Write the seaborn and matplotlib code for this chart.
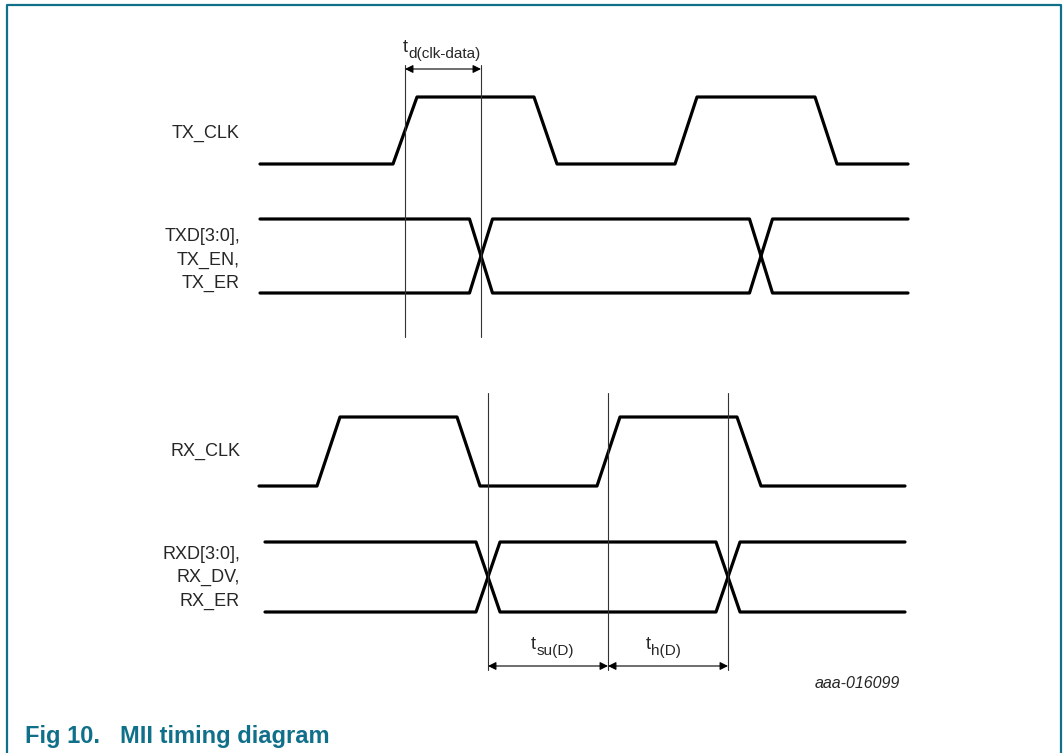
import pandas as pd
import seaborn as sns
import matplotlib.pyplot as plt

# waveform data (time axis in drawing units, levels 0 = low, 1 = high)
tx_clk_t = [260, 393, 417, 534, 557, 675, 697, 815, 837, 908]
tx_clk_lvl = [0, 0, 1, 1, 0, 0, 1, 1, 0, 0]
rx_clk_t = [259, 317, 340, 457, 480, 597, 620, 737, 761, 905]
rx_clk_lvl = [0, 0, 1, 1, 0, 0, 1, 1, 0, 0]

# data buses: start, crossing centres, end
tx_bus_start, tx_bus_cross, tx_bus_end = 260, [481, 761], 908
rx_bus_start, rx_bus_cross, rx_bus_end = 265, [488, 728], 905

# timing reference lines
tx_marks = [405, 481]
rx_marks = [488, 608, 728]

signal_names = ["TX_CLK", "TXD[3:0],\nTX_EN,\nTX_ER", "RX_CLK", "RXD[3:0],\nRX_DV,\nRX_ER"]
timing_labels = [("t", "d(clk-data)"), ("t", "su(D)"), ("t", "h(D)")]
fig_number = "Fig 10."
fig_title = "MII timing diagram"
drawing_id = "aaa-016099"

TEAL = "#10708a"

sns.set_style("white")
plt.rcParams["font.family"] = ["Liberation Sans", "DejaVu Sans"]

fig = plt.figure(figsize=(10.63, 7.53), dpi=100)
ax = fig.add_axes([0, 0, 1, 1])
ax.set_xlim(0, 1063)
ax.set_ylim(753, 0)
ax.axis("off")

WAVE = dict(color="black", linewidth=2.3, estimator=None, sort=False, legend=False)


def clock(t, lvl, y_low, y_high):
    df = pd.DataFrame({"t": t, "y": [y_high if v else y_low for v in lvl]})
    sns.lineplot(data=df, x="t", y="y", ax=ax, **WAVE)


def bus(start, cross, end, y_top, y_bot, half=12):
    for first, second in ((y_top, y_bot), (y_bot, y_top)):
        xs, ys = [start], [first]
        cur, other = first, second
        for c in cross:
            xs += [c - half, c + half]
            ys += [cur, other]
            cur, other = other, cur
        xs.append(end)
        ys.append(cur)
        sns.lineplot(x=xs, y=ys, ax=ax, **WAVE)


def marks(xs, y0, y1):
    for x in xs:
        ax.plot([x, x], [y0, y1], color="#333333", linewidth=0.8)


def dim_arrow(x0, x1, y, label, tx):
    ax.annotate("", xy=(x0, y), xytext=(x1, y),
                arrowprops=dict(arrowstyle="<|-|>", color="black", lw=0.8,
                                mutation_scale=12, shrinkA=0, shrinkB=0))
    main, sub = label
    ax.text(tx, y - 17, main, fontsize=13, ha="left", va="baseline")
    ax.text(tx + 5.5, y - 11, sub, fontsize=11, ha="left", va="baseline")


# waveforms
clock(tx_clk_t, tx_clk_lvl, 164, 97)
bus(tx_bus_start, tx_bus_cross, tx_bus_end, 219, 293, half=11.5)
clock(rx_clk_t, rx_clk_lvl, 486, 417)
bus(rx_bus_start, rx_bus_cross, rx_bus_end, 542, 612, half=12)

# reference lines and dimension arrows
marks(tx_marks, 65, 337)
marks(rx_marks, 393, 670)
dim_arrow(tx_marks[0], tx_marks[1], 69, timing_labels[0], 403)
dim_arrow(rx_marks[0], rx_marks[1], 666, timing_labels[1], 531)
dim_arrow(rx_marks[1], rx_marks[2], 666, timing_labels[2], 646)

# signal names
for name, y in zip(signal_names, [133, 260, 451, 578]):
    ax.text(240, y, name, fontsize=13, ha="right", va="center", linespacing=1.5,
            multialignment="right")

ax.text(815, 688, drawing_id, fontsize=11.5, style="italic", ha="left", va="baseline")

# frame and caption
ax.plot([7, 7, 1061, 1061], [753, 5, 5, 753], color=TEAL, linewidth=1.6)
ax.text(25, 743, fig_number, fontsize=17, fontweight="bold", color=TEAL, va="baseline")
ax.text(120, 743, fig_title, fontsize=17, fontweight="bold", color=TEAL, va="baseline")

fig.savefig("out.png", dpi=100)
